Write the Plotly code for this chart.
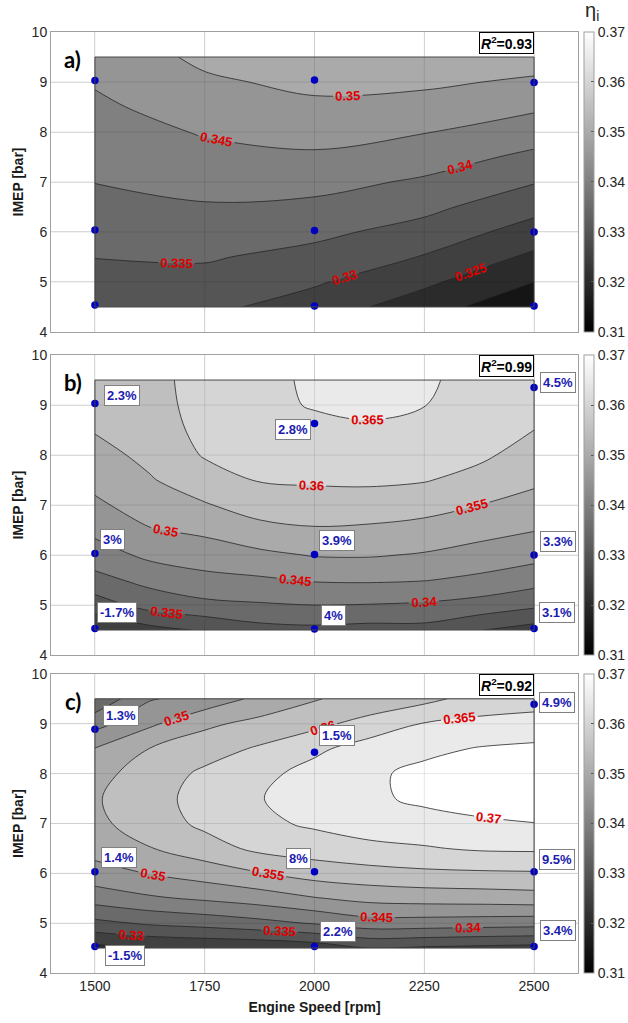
import plotly.graph_objects as go

# ---------------- data ----------------
speed_ticks = [1500, 1750, 2000, 2250, 2500]
imep_ticks = [4, 5, 6, 7, 8, 9, 10]
cbar_ticks = [0.31, 0.32, 0.33, 0.34, 0.35, 0.36, 0.37]

imep_grid = [4.5, 5.0, 5.5, 6.0, 6.5, 7.0, 7.5, 8.0, 8.5, 9.0, 9.5]
speed_grid_a = [1500, 1750, 2000, 2250, 2500]
speed_grid_bc = [1500, 1625, 1750, 1875, 2000, 2125, 2250, 2375, 2500]

# fitted efficiency surfaces, rows = IMEP (4.5 -> 9.5), columns = speed
eta_a = [
    [.3316, .3312, .3277, .3223, .3159],
    [.3334, .3334, .3306, .3260, .3200],
    [.3351, .3355, .3334, .3297, .3240],
    [.3368, .3375, .3362, .3331, .3279],
    [.3384, .3396, .3389, .3363, .3316],
    [.3401, .3415, .3416, .3393, .3353],
    [.3414, .3435, .3443, .3423, .3389],
    [.3427, .3454, .3467, .3452, .3424],
    [.3441, .3473, .3490, .3481, .3458],
    [.3454, .3492, .3512, .3509, .3492],
    [.3465, .3511, .3531, .3536, .3525],
]

eta_b_cols = [
    [.3255, .3325, .3384, .3427, .3462, .3491, .3514, .3534, .3553, .3568, .3578],
    [.3284, .3369, .3415, .3461, .3497, .3523, .3546, .3562, .3572, .3577, .3579],
    [.3305, .3388, .3436, .3474, .3510, .3546, .3578, .3604, .3615, .3622, .3626],
    [.3332, .3395, .3443, .3489, .3535, .3572, .3603, .3620, .3633, .3640, .3640],
    [.3338, .3400, .3454, .3503, .3545, .3579, .3606, .3622, .3639, .3653, .3656],
    [.3332, .3398, .3456, .3504, .3541, .3578, .3608, .3627, .3646, .3656, .3664],
    [.3333, .3393, .3452, .3496, .3532, .3569, .3603, .3619, .3635, .3651, .3656],
    [.3302, .3381, .3439, .3481, .3517, .3550, .3584, .3609, .3622, .3631, .3636],
    [.3280, .3360, .3420, .3466, .3502, .3533, .3559, .3580, .3600, .3614, .3624],
]

eta_c_cols = [
    [.3235, .3337, .3422, .3480, .3519, .3539, .3545, .3533, .3502, .3432, .3359],
    [.3250, .3357, .3443, .3502, .3548, .3574, .3582, .3574, .3551, .3491, .3446],
    [.3255, .3369, .3458, .3523, .3578, .3611, .3618, .3609, .3579, .3540, .3469],
    [.3258, .3385, .3474, .3547, .3612, .3639, .3648, .3637, .3606, .3565, .3512],
    [.3270, .3404, .3497, .3572, .3624, .3658, .3671, .3667, .3640, .3586, .3548],
    [.3300, .3429, .3515, .3582, .3638, .3674, .3691, .3691, .3672, .3620, .3562],
    [.3293, .3428, .3521, .3590, .3646, .3681, .3710, .3713, .3688, .3653, .3586],
    [.3287, .3424, .3524, .3593, .3656, .3691, .3724, .3728, .3703, .3663, .3620],
    [.3282, .3420, .3529, .3595, .3658, .3699, .3729, .3733, .3710, .3669, .3629],
]

pts_speed = [1500, 2000, 2500, 1500, 2000, 2500, 1500, 2000, 2500]
pts_imep_a = [9.03, 9.04, 8.99, 6.04, 6.03, 6.0, 4.54, 4.52, 4.52]
pts_imep_b = [9.03, 8.63, 9.35, 6.03, 6.01, 6.0, 4.53, 4.52, 4.53]
pts_imep_c = [8.89, 8.43, 9.39, 6.03, 6.03, 6.03, 4.53, 4.53, 4.53]
gain_b = ["2.3%", "2.8%", "4.5%", "3%", "3.9%", "3.3%", "-1.7%", "4%", "3.1%"]
gain_c = ["1.3%", "1.5%", "4.9%", "1.4%", "8%", "9.5%", "-1.5%", "2.2%", "3.4%"]
r2_values = ["0.93", "0.99", "0.92"]
panel_tags = ["a)", "b)", "c)"]

# ---------------- style ----------------
shift_b = [(27, 8), (-22, -6), (24, 5), (18, 14), (22, 14), (24, 14), (22, 16), (19, 14), (23, 16)]
shift_c = [(26, 14), (22, 17), (23, 2), (24, 14), (-16, 13), (23, 12), (30, -9), (23, 15), (24, 16)]

FONT = "Liberation Sans, Arial, sans-serif"
TICKC = "#262626"
FRAME = "#a0a0a0"
BLUE_DOT = "#0000c8"
BLUE_TXT = "#1c1cb0"
domains = [[0.6812, 1.0], [0.3379, 0.6567], [0.0, 0.3178]]

# fill colorscale: band [L, L+0.005] coloured like the value L on a 0.31..0.37 gray map
fill_scale = [[0.0, "rgb(0,0,0)"], [0.0769, "rgb(0,0,0)"], [1.0, "rgb(255,255,255)"]]
bar_scale = [[0.0, "rgb(0,0,0)"], [1.0, "rgb(255,255,255)"]]


def transpose(cols):
    return [list(r) for r in zip(*cols)]


surfaces = [
    (speed_grid_a, eta_a),
    (speed_grid_bc, transpose(eta_b_cols)),
    (speed_grid_bc, transpose(eta_c_cols)),
]
pts_imep = [pts_imep_a, pts_imep_b, pts_imep_c]

fig = go.Figure()
annotations = []
shapes = []

for i in range(3):
    xa = "x" if i == 0 else f"x{i+1}"
    ya = "y" if i == 0 else f"y{i+1}"
    sx, z = surfaces[i]
    fig.add_trace(go.Contour(
        x=sx, y=imep_grid, z=z, xaxis=xa, yaxis=ya,
        colorscale=fill_scale, showscale=False, hoverinfo="skip",
        contours=dict(start=0.31, end=0.37, size=0.005, coloring="fill",
                      showlabels=True, labelformat=".3~f",
                      labelfont=dict(family=FONT, size=13, color="#e00000", weight="bold")),
        line=dict(color="#262626", width=0.8, smoothing=1.0),
    ))
    fig.add_trace(go.Scatter(
        x=pts_speed, y=pts_imep[i], xaxis=xa, yaxis=ya, mode="markers",
        marker=dict(color=BLUE_DOT, size=7.5), showlegend=False, hoverinfo="skip",
    ))
    d0, d1 = domains[i]
    fig.add_trace(go.Scatter(
        x=[None], y=[None], xaxis=xa, yaxis=ya, mode="markers", showlegend=False,
        hoverinfo="skip",
        marker=dict(color=[cbar_ticks[0]], cmin=cbar_ticks[0], cmax=cbar_ticks[-1],
                    colorscale=bar_scale, showscale=True,
                    colorbar=dict(x=(584 - 51) / 527, xanchor="left", y=(d0 + d1) / 2,
                                  yanchor="middle", len=d1 - d0, lenmode="fraction",
                                  thickness=10, thicknessmode="pixels", xpad=0, ypad=0,
                                  outlinecolor=FRAME, outlinewidth=1,
                                  tickvals=cbar_ticks, ticktext=[f"{v:.2f}" for v in cbar_ticks],
                                  ticks="inside", ticklen=3, tickcolor="#555",
                                  tickfont=dict(family=FONT, size=14, color=TICKC))),
    ))
    # contour region outline
    shapes.append(dict(type="rect", xref=xa, yref=ya, x0=min(sx), x1=max(sx),
                       y0=min(imep_grid), y1=max(imep_grid),
                       line=dict(color="#4a4a4a", width=1), layer="above"))
    # grid over the surface (Matlab style)
    for v in speed_ticks:
        shapes.append(dict(type="line", xref=xa, yref=ya, x0=v, x1=v, y0=imep_ticks[0], y1=imep_ticks[-1],
                           line=dict(color="rgba(0,0,0,0.10)", width=1), layer="above"))
    for v in imep_ticks[1:-1]:
        shapes.append(dict(type="line", xref=xa, yref=ya, x0=1400, x1=2600, y0=v, y1=v,
                           line=dict(color="rgba(0,0,0,0.10)", width=1), layer="above"))
    # R^2 box
    annotations.append(dict(xref=xa, yref=ya, x=2500, y=10, xanchor="right", yanchor="top",
                            text=f"<b><i>R</i><sup>2</sup>=" + r2_values[i] + "</b>", showarrow=False,
                            font=dict(family=FONT, size=14, color="black"),
                            bgcolor="white", bordercolor="black", borderwidth=1, borderpad=1))
    # panel tag
    annotations.append(dict(xref=xa, yref=ya, x=1450, y=9.45, text=f"<b>{panel_tags[i]}</b>",
                            showarrow=False, font=dict(family="Lato, sans-serif", size=22, color="black")))

for i, (gains, shifts) in enumerate([(gain_b, shift_b), (gain_c, shift_c)], start=1):
    xa, ya = f"x{i+1}", f"y{i+1}"
    for sp, im, g, (dx, dy) in zip(pts_speed, pts_imep[i], gains, shifts):
        annotations.append(dict(xref=xa, yref=ya, x=sp, y=im, text=f"<b>{g}</b>", showarrow=False,
                                xshift=dx, yshift=dy, bgcolor="white", bordercolor="#808080",
                                borderwidth=1, borderpad=2,
                                font=dict(family=FONT, size=13, color=BLUE_TXT)))

annotations.append(dict(xref="paper", yref="paper", x=(592 - 51) / 527, y=1 + (32 - 12) / 941,
                        text="η<sub>i</sub>", showarrow=False, xanchor="center", yanchor="middle",
                        font=dict(family=FONT, size=20, color="#262626")))

layout = dict(
    width=628, height=1023, margin=dict(l=51, r=50, t=32, b=50, autoexpand=False),
    paper_bgcolor="white", plot_bgcolor="white", showlegend=False,
    annotations=annotations, shapes=shapes,
    font=dict(family=FONT, color=TICKC),
)
for i in range(3):
    xk = "xaxis" if i == 0 else f"xaxis{i+1}"
    yk = "yaxis" if i == 0 else f"yaxis{i+1}"
    ya = "y" if i == 0 else f"y{i+1}"
    xa = "x" if i == 0 else f"x{i+1}"
    layout[xk] = dict(domain=[0, 1], anchor=ya, range=[1400, 2600], tickvals=speed_ticks,
                      showticklabels=(i == 2), showgrid=True, gridcolor="#e6e6e6", zeroline=False,
                      showline=True, mirror=True, linecolor=FRAME, linewidth=1, ticks="",
                      tickfont=dict(family=FONT, size=14, color=TICKC))
    layout[yk] = dict(domain=domains[i], anchor=xa, range=[4, 10], tickvals=imep_ticks,
                      showgrid=True, gridcolor="#e6e6e6", zeroline=False,
                      showline=True, mirror=True, linecolor=FRAME, linewidth=1, ticks="",
                      tickfont=dict(family=FONT, size=14, color=TICKC),
                      title=dict(text="<b>IMEP [bar]</b>", standoff=4,
                                 font=dict(family=FONT, size=14, color="#1a1a1a")))
layout["xaxis3"]["title"] = dict(text="<b>Engine Speed [rpm]</b>", standoff=9,
                                 font=dict(family=FONT, size=14, color="#1a1a1a"))
for k in ["xaxis", "xaxis2", "xaxis3", "yaxis", "yaxis2", "yaxis3"]:
    layout[k]["automargin"] = False

fig.update_layout(**layout)
fig.write_html("out.html")
